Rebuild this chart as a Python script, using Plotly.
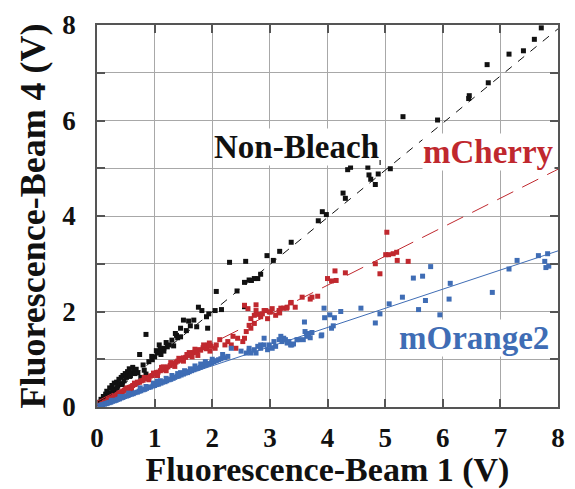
import plotly.graph_objects as go

# ---------------- data ----------------
nb_x = [0.05,0.07,0.09,0.11,0.13,0.15,0.17,0.19,0.22,0.24,0.26,0.28,0.30,0.32,0.34,0.36,0.38,0.40,0.42,0.45,
        0.47,0.49,0.51,0.53,0.54,0.56,0.58,0.59,0.62,0.65,0.68,0.71,0.74,0.76,0.80,0.82,0.85,0.85,0.90,0.96,
        1.00,1.03,1.05,1.08,1.11,1.13,1.16,1.16,1.20,1.25,1.30,1.33,1.36,1.40,1.45,1.45,1.50,1.55,1.59,1.68,
        1.73,1.76,1.82,1.90,1.92,1.94,2.05,2.07,2.16,2.30,2.43,2.56,2.56,2.58,2.64,2.68,2.73,2.79,2.84,2.95,
        3.06,3.17,3.37,3.84,3.91,3.98,4.27,4.31,4.35,4.40,4.70,4.72,4.75,4.83,4.88,4.88,5.09,5.31,5.91,6.45,
        6.46,6.77,6.79,7.15,7.40,7.59,7.71,
        0.20,0.35,0.44,0.57,0.66,0.95,1.10,1.22,1.38,1.62,0.12,0.28]
nb_y = [0.10,0.16,0.12,0.22,0.17,0.27,0.33,0.24,0.40,0.30,0.45,0.38,0.50,0.36,0.52,0.44,0.58,0.49,0.62,0.66,
        0.55,0.70,0.62,0.74,0.69,0.80,0.66,0.72,0.83,0.78,0.79,0.72,1.10,0.62,0.88,0.77,0.69,1.52,0.95,0.99,
        1.05,1.18,1.13,1.30,1.10,1.20,1.17,1.23,1.35,1.30,1.40,1.28,1.54,1.45,1.47,1.65,1.82,1.60,1.80,1.82,
        1.68,2.09,2.02,1.89,1.65,1.95,2.02,2.42,2.04,3.03,2.43,2.10,2.61,3.05,2.66,2.65,2.69,2.69,2.78,3.17,
        3.07,3.26,3.45,3.90,4.09,4.03,4.48,4.37,4.97,5.02,5.02,4.86,4.77,4.66,5.12,4.88,4.99,6.08,6.01,6.46,
        6.52,7.17,6.79,7.39,7.46,7.70,7.94,
        0.20,0.40,0.47,0.64,0.70,1.06,1.22,1.26,1.50,1.70,0.14,0.33]

mc_x = [0.05,0.08,0.10,0.13,0.15,0.18,0.20,0.23,0.25,0.28,0.30,0.33,0.35,0.38,0.40,0.43,0.45,0.48,0.50,0.53,
        0.56,0.59,0.62,0.65,0.68,0.71,0.74,0.77,0.80,0.83,0.86,0.90,0.93,0.96,1.00,1.03,1.06,1.10,1.13,1.16,
        1.20,1.23,1.27,1.30,1.33,1.37,1.40,1.44,1.47,1.50,1.54,1.57,1.60,1.64,1.67,1.70,1.74,1.77,1.80,1.84,
        1.87,1.90,1.93,1.96,1.98,0.30,0.60,0.90,1.20,1.50,1.75,0.45,1.05,1.35,1.65,
        0.20,0.38,0.52,0.70,0.82,0.98,1.15,1.28,1.42,1.56,1.70,1.85,1.95,0.65,1.12,1.60,
        2.05,2.07,2.13,2.22,2.27,2.33,2.36,2.41,2.44,2.53,2.56,2.59,2.67,2.73,2.56,2.62,2.76,2.64,2.67,2.73,
        2.76,2.79,2.84,2.87,2.90,2.93,2.96,2.99,3.01,3.04,3.10,3.16,3.17,3.19,3.24,3.29,3.30,3.36,3.37,3.44,
        3.56,3.70,3.73,3.83,4.00,4.07,4.13,4.15,4.31,4.83,4.91,5.01,5.03,5.06,5.14,5.20,5.21,5.40]
mc_y = [0.04,0.06,0.08,0.10,0.11,0.13,0.15,0.17,0.19,0.20,0.22,0.24,0.26,0.28,0.30,0.31,0.33,0.35,0.37,0.38,
        0.41,0.42,0.45,0.47,0.48,0.51,0.52,0.55,0.56,0.59,0.60,0.62,0.65,0.66,0.70,0.72,0.73,0.76,0.78,0.80,
        0.83,0.84,0.87,0.90,0.91,0.94,0.96,0.98,1.01,1.03,1.04,1.08,1.09,1.11,1.14,1.15,1.18,1.20,1.19,1.24,
        1.26,1.22,1.30,1.17,1.27,0.18,0.36,0.57,0.76,0.96,1.08,0.33,0.66,0.85,1.05,
        0.17,0.29,0.40,0.52,0.62,0.71,0.84,0.93,1.02,1.10,1.21,1.30,1.34,0.50,0.83,1.14,
        1.23,1.30,1.41,1.30,1.37,1.30,1.48,1.23,1.44,1.37,1.44,1.58,1.65,1.75,2.13,2.06,2.14,1.71,1.85,1.92,
        2.02,1.94,1.89,1.95,2.02,2.02,1.85,1.99,1.99,2.06,1.92,2.02,1.97,2.07,2.07,2.07,2.09,2.18,2.19,2.09,
        2.30,2.26,2.30,2.32,2.69,2.64,2.85,2.65,2.81,3.00,2.79,3.19,3.66,3.19,3.21,3.24,3.07,3.05]

mo_x = [0.05,0.08,0.10,0.13,0.16,0.18,0.21,0.24,0.27,0.30,0.33,0.36,0.39,0.42,0.45,0.48,0.51,0.54,0.57,0.60,
        0.63,0.66,0.70,0.73,0.76,0.80,0.83,0.86,0.90,0.93,0.97,1.00,1.04,1.07,1.11,1.14,1.18,1.21,1.25,1.28,
        1.32,1.35,1.39,1.42,1.46,1.50,1.53,1.57,1.60,1.64,1.68,1.72,1.75,1.79,1.83,1.87,1.91,1.95,1.99,2.03,
        2.07,2.11,2.15,2.22,2.27,0.40,0.75,1.10,1.45,1.80,1.20,1.62,
        0.25,0.55,0.85,0.98,1.30,1.52,1.70,1.88,2.00,2.18,1.05,1.40,
        2.33,2.50,2.59,2.64,2.64,2.67,2.73,2.76,2.79,2.84,2.84,2.90,2.90,2.96,2.99,3.04,3.07,3.10,3.16,3.19,
        3.21,3.24,3.27,3.30,3.33,3.36,3.38,3.41,3.47,3.50,3.58,3.60,3.61,3.64,3.64,3.66,3.67,3.70,3.73,3.89,
        3.90,3.94,3.95,4.04,4.07,4.10,4.12,4.23,4.58,4.83,4.91,5.07,5.30,5.49,5.58,5.65,5.70,5.79,5.95,6.11,
        6.13,6.86,7.15,7.29,7.66,7.77,7.79,7.82,7.84]
mo_y = [0.02,0.04,0.05,0.06,0.07,0.08,0.09,0.10,0.12,0.13,0.14,0.16,0.17,0.19,0.20,0.22,0.23,0.24,0.26,0.27,
        0.28,0.30,0.31,0.33,0.34,0.36,0.37,0.39,0.41,0.42,0.44,0.45,0.47,0.48,0.50,0.52,0.53,0.55,0.57,0.58,
        0.60,0.62,0.64,0.65,0.67,0.69,0.71,0.72,0.74,0.76,0.78,0.80,0.81,0.83,0.85,0.87,0.89,0.91,0.93,0.95,
        0.97,0.99,1.01,1.03,1.06,0.22,0.40,0.55,0.72,0.90,0.60,0.80,
        0.14,0.29,0.43,0.50,0.66,0.76,0.86,0.95,1.00,1.10,0.54,0.70,
        1.23,1.17,1.13,1.17,1.23,1.13,1.20,1.13,1.27,1.23,1.30,1.30,1.44,1.20,1.30,1.23,1.37,1.27,1.41,1.48,
        1.37,1.44,1.41,1.34,1.37,1.30,1.30,1.32,1.41,1.41,1.41,1.78,1.58,1.54,1.48,1.54,1.51,1.45,1.56,1.49,
        1.51,2.07,1.87,1.93,1.65,1.70,1.87,2.00,2.07,1.76,1.95,2.16,2.30,2.70,2.04,2.74,2.23,2.94,1.93,2.26,
        2.59,2.40,2.89,3.07,3.17,3.05,2.92,3.21,2.95]

# fitted lines (endpoints)
fit_x = [0, 8]
nb_fit_y = [0.02, 7.92]
mc_fit_y = [0.12, 4.98]
mo_fit_y = [0.06, 3.27]

labels = ["Non-Bleach", "mCherry", "mOrange2"]
tick_vals = [0, 1, 2, 3, 4, 5, 6, 7, 8]
x_tick_text = ["0", "1", "2", "3", "4", "5", "6", "7", "8"]
y_tick_text = ["0", "", "2", "", "4", "", "6", "", "8"]

# ---------------- styles ----------------
BLACK = "#111111"
RED = "#C0282E"
BLUE = "#3F6DB5"
FONT = "Liberation Serif"

fig = go.Figure()

mk = dict(symbol="square", size=5, line=dict(width=0))
fig.add_trace(go.Scatter(x=nb_x, y=nb_y, mode="markers", marker=dict(color=BLACK, **mk), showlegend=False))
fig.add_trace(go.Scatter(x=fit_x, y=nb_fit_y, mode="lines", line=dict(color=BLACK, width=1, dash="8px,8px"), showlegend=False))
fig.add_trace(go.Scatter(x=mc_x, y=mc_y, mode="markers", marker=dict(color=RED, **mk), showlegend=False))
fig.add_trace(go.Scatter(x=fit_x, y=mc_fit_y, mode="lines", line=dict(color=RED, width=1, dash="18px,10px"), showlegend=False))
fig.add_trace(go.Scatter(x=mo_x, y=mo_y, mode="markers", marker=dict(color=BLUE, **mk), showlegend=False))
fig.add_trace(go.Scatter(x=fit_x, y=mo_fit_y, mode="lines", line=dict(color=BLUE, width=1), showlegend=False))

ann_font = dict(family=FONT, size=33, weight="bold")
fig.add_annotation(x=3.47, y=5.45, text=labels[0], showarrow=False,
                   font=dict(color=BLACK, **ann_font), bgcolor="white", borderpad=0)
fig.add_annotation(x=6.79, y=5.33, text=labels[1], showarrow=False,
                   font=dict(color=RED, **ann_font), bgcolor="white", borderpad=0)
fig.add_annotation(x=6.55, y=1.45, text=labels[2], showarrow=False,
                   font=dict(color=BLUE, **ann_font), bgcolor="white", borderpad=0)

axis_common = dict(
    range=[0, 8], tickmode="array", tickvals=tick_vals,
    showgrid=True, gridcolor="#a8a8a8", gridwidth=1,
    zeroline=False, showline=True, linecolor="#555555", linewidth=1.5, mirror="ticks",
    ticks="inside", ticklen=8, tickcolor="#555555", tickwidth=1.5,
    tickfont=dict(family=FONT, size=27, color=BLACK, weight="bold"),
)
fig.update_xaxes(**axis_common, ticktext=x_tick_text,
                 title=dict(text="Fluorescence-Beam 1 (V)",
                            font=dict(family=FONT, size=34, color=BLACK, weight="bold"), standoff=2),
                 ticklabelstandoff=6)
fig.update_yaxes(**axis_common, ticktext=y_tick_text,
                 title=dict(text="Fluorescence-Beam 4 (V)",
                            font=dict(family=FONT, size=36, color=BLACK, weight="bold"), standoff=6),
                 ticklabelstandoff=14)

fig.update_layout(
    width=575, height=489,
    margin=dict(l=97, r=10, t=21, b=79),
    paper_bgcolor="white", plot_bgcolor="white",
    font=dict(family=FONT, color=BLACK),
)

fig.write_html("out.html")
